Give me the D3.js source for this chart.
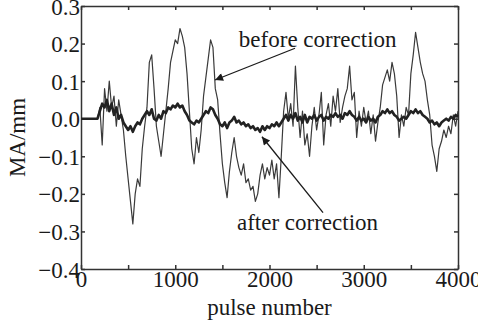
<!DOCTYPE html>
<html>
<head>
<meta charset="utf-8">
<script src="https://cdn.jsdelivr.net/npm/d3@7"></script>
<style>
  body { margin: 0; background: #fff; }
  svg text { font-family: "Liberation Serif", "Times New Roman", serif; fill: #1a1a1a; }
</style>
</head>
<body>
<div id="chart"></div>
<script>
// sample grid (pulse number), every 25 pulses
var pulses = d3.range(0, 4001, 25);

// MA before correction, mm
var before = [
  0, 0, 0, 0, 0, 0, 0, 0,
  0.03, -0.07, 0.08, 0.02, 0.10, 0.03, 0.06, -0.02,
  0.05, 0.01, -0.03, -0.10, -0.16, -0.22, -0.28, -0.20,
  -0.16, -0.18, -0.08, -0.02, 0.03, 0.15, 0.17, 0.08,
  -0.02, -0.06, -0.10, -0.04, 0.02, 0.08, 0.15, 0.18,
  0.21, 0.20, 0.24, 0.22, 0.19, 0.12, 0.02, -0.08,
  -0.12, -0.05, -0.09, -0.03, 0.06, 0.11, 0.16, 0.21,
  0.19, 0.08, 0.05, -0.04, -0.12, -0.17, -0.21, -0.14,
  -0.09, -0.05, -0.10, -0.13, -0.15, -0.12, -0.17, -0.16,
  -0.19, -0.18, -0.22, -0.20, -0.15, -0.12, -0.16, -0.13,
  -0.15, -0.11, -0.16, -0.12, -0.21, -0.10, 0.02, 0.07,
  0.00, 0.04, -0.02, 0.14, 0.03, -0.05, 0.02, -0.07,
  -0.04, -0.10, -0.02, 0.03, -0.03, 0.01, 0.07, -0.07,
  0.01, 0.04, -0.02, 0.06, 0.02, 0.08, -0.01, 0.03,
  0.06, 0.08, 0.14, 0.05, 0.07, -0.05, 0.02, -0.02,
  0.03, -0.01, 0.02, -0.04, 0.01, -0.06, -0.01, 0.03,
  0.09, 0.11, 0.13, 0.10, 0.15, 0.12, 0.06, -0.05,
  0.01, -0.02, 0.03, 0.01, 0.12, 0.17, 0.23, 0.19,
  0.15, 0.12, 0.10, 0.05, 0.01, -0.07, -0.10, -0.14,
  -0.08, -0.06, -0.03, -0.05, -0.02, -0.04, 0.01, -0.02,
  0.02
];

// MA after correction, mm
var after = [
  0, 0, 0, 0, 0, 0, 0, 0,
  0.02, 0.04, 0.03, 0.05, 0.02, 0.04, 0.01, 0.03,
  0.00, 0.01, -0.01, -0.02, -0.03, -0.02, -0.035, -0.02,
  -0.01, -0.015, 0.00, 0.01, 0.02, 0.01, 0.025, 0.00,
  -0.005, 0.01, 0.00, 0.02, 0.015, 0.03, 0.025, 0.035,
  0.03, 0.04, 0.03, 0.035, 0.02, 0.01, -0.005, -0.01,
  -0.015, -0.005, -0.01, 0.00, 0.01, 0.02, 0.015, 0.03,
  0.025, 0.01, 0.00, -0.015, -0.02, -0.01, -0.025, -0.01,
  -0.005, 0.005, -0.01, -0.005, -0.015, -0.01, -0.02, -0.015,
  -0.025, -0.02, -0.03, -0.025, -0.035, -0.02, -0.03, -0.02,
  -0.025, -0.015, -0.02, -0.01, -0.02, -0.01, 0.00, 0.01,
  -0.005, 0.01, 0.00, 0.015, -0.005, 0.005, -0.01, 0.01,
  -0.01, 0.005, 0.00, 0.01, -0.005, 0.005, 0.01, -0.005,
  0.005, 0.00, 0.01, 0.005, 0.015, 0.005, 0.01, 0.00,
  0.015, 0.01, 0.02, 0.01, 0.005, -0.005, 0.005, -0.005,
  0.00, -0.01, 0.005, -0.005, 0.00, -0.01, 0.005, 0.01,
  0.02, 0.015, 0.025, 0.015, 0.02, 0.01, 0.005, -0.005,
  0.00, 0.005, 0.00, 0.01, 0.02, 0.015, 0.025, 0.015,
  0.02, 0.01, 0.005, 0.00, -0.01, -0.005, -0.015, -0.01,
  -0.02, -0.01, -0.005, 0.00, -0.005, 0.005, 0.00, 0.01,
  0.005
];

var xTicks = [0, 500, 1000, 1500, 2000, 2500, 3000, 3500, 4000];
var yTicks = [-0.4, -0.3, -0.2, -0.1, 0.0, 0.1, 0.2, 0.3];

// annotation anchors in data units: [text x, text y, arrow start x, y, arrow tip x, y]
var noteBefore = ["before correction", 1675, 0.191, 2271, 0.1875, 1422, 0.103];
var noteAfter = ["after correction", 1655, -0.296, 2568, -0.25, 1920, -0.048];

var W = 478, H = 323;
var margin = {top: 6, right: 20, bottom: 54, left: 81};
var w = W - margin.left - margin.right;
var h = H - margin.top - margin.bottom;

var svg = d3.select("#chart").append("svg")
  .attr("width", W)
  .attr("height", H);

var g = svg.append("g")
  .attr("transform", "translate(" + margin.left + "," + margin.top + ")");

var x = d3.scaleLinear().domain([0, 4000]).range([0, w]);
var y = d3.scaleLinear().domain([-0.4, 0.3]).range([h, 0]);

var fmtY = d3.format(".1f");

// axes, ticks all pointing in
var xAxis = g.append("g")
  .attr("transform", "translate(0," + h + ")")
  .call(d3.axisBottom(x).tickValues(xTicks).tickSizeInner(-4).tickSizeOuter(0).tickPadding(1)
    .tickFormat(function(d){ return d % 1000 === 0 ? d : ""; }));
var xTop = g.append("g")
  .call(d3.axisTop(x).tickValues(xTicks).tickSizeInner(-4).tickSizeOuter(0).tickFormat(""));
var yAxis = g.append("g")
  .call(d3.axisLeft(y).tickValues(yTicks).tickSizeInner(-4).tickSizeOuter(0).tickPadding(1)
    .tickFormat(function(d){ return fmtY(d); }));
var yRight = g.append("g")
  .attr("transform", "translate(" + w + ",0)")
  .call(d3.axisRight(y).tickValues(yTicks).tickSizeInner(-4).tickSizeOuter(0).tickFormat(""));

[xAxis, xTop, yAxis, yRight].forEach(function(a){
  a.selectAll("path, line").attr("stroke", "#333").attr("stroke-width", 1.5);
  a.selectAll("text").attr("font-size", 23).attr("fill", "#1a1a1a")
    .style("font-family", "'Liberation Serif', serif");
});
xAxis.selectAll("text").attr("dy", "0.75em");
yAxis.selectAll("text").attr("dy", "0.35em");

// series
var line = d3.line()
  .x(function(d, i){ return x(pulses[i]); })
  .y(function(d){ return y(d); });

g.append("path")
  .datum(before)
  .attr("fill", "none")
  .attr("stroke", "#3a3a3a")
  .attr("stroke-width", 1.2)
  .attr("stroke-linejoin", "round")
  .attr("d", line);

g.append("path")
  .datum(after)
  .attr("fill", "none")
  .attr("stroke", "#222")
  .attr("stroke-width", 2.6)
  .attr("stroke-linejoin", "round")
  .attr("d", line);

// arrow marker
svg.append("defs").append("marker")
  .attr("id", "arrow")
  .attr("viewBox", "0 0 10 10")
  .attr("refX", 10).attr("refY", 5)
  .attr("markerWidth", 12).attr("markerHeight", 8)
  .attr("markerUnits", "userSpaceOnUse")
  .attr("orient", "auto")
  .append("path")
  .attr("d", "M0,0 L10,5 L0,10 Z")
  .attr("fill", "#1a1a1a");

[noteBefore, noteAfter].forEach(function(n){
  g.append("text")
    .attr("x", x(n[1]))
    .attr("y", y(n[2]))
    .attr("font-size", 23)
    .text(n[0]);
  g.append("line")
    .attr("x1", x(n[3])).attr("y1", y(n[4]))
    .attr("x2", x(n[5])).attr("y2", y(n[6]))
    .attr("stroke", "#1a1a1a")
    .attr("stroke-width", 1.3)
    .attr("marker-end", "url(#arrow)");
});

// axis titles
svg.append("text")
  .attr("x", margin.left + w / 2)
  .attr("y", 315)
  .attr("text-anchor", "middle")
  .attr("font-size", 23)
  .text("pulse number");

svg.append("text")
  .attr("transform", "translate(25," + (margin.top + h / 2) + ") rotate(-90)")
  .attr("text-anchor", "middle")
  .attr("font-size", 23)
  .text("MA/mm");
</script>
</body>
</html>
